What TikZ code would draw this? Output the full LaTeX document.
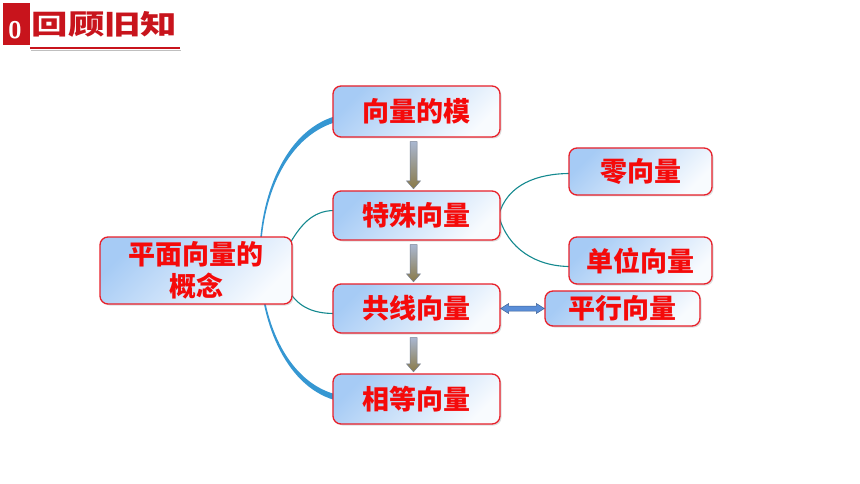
\documentclass[tikz,border=0pt]{standalone}
\usepackage{fontspec}
\newfontfamily\cjk{Noto Sans CJK SC}
\usetikzlibrary{calc,backgrounds,shadows}

\definecolor{boxred}{HTML}{E8202A}
\definecolor{boxblue}{HTML}{A6CBF5}
\definecolor{txtred}{HTML}{F50A0A}
\definecolor{titlered}{HTML}{C8141C}
\definecolor{tealline}{HTML}{14898F}
\definecolor{arcblue}{HTML}{3597D2}
\definecolor{arrtop}{HTML}{A9B7D0}
\definecolor{arrbot}{HTML}{8A7A48}
\definecolor{dblblue}{HTML}{5A8ED8}

\tikzset{
  concept/.style={draw=boxred, line width=1.3pt, rounded corners=8pt,
    top color=boxblue, bottom color=white!92!boxblue, shading angle=45,
    drop shadow={shadow xshift=1.5pt, shadow yshift=-1.5pt, opacity=.25},
    font=\cjk\bfseries\fontsize{27}{32}\selectfont, text=txtred,
    align=center, inner sep=0pt},
  branch/.style={draw=tealline, line width=1.1pt},
  arrowfill/.style={top color=arrtop, bottom color=arrbot, draw=arrtop!70!black, line width=.5pt},
}

\newcommand\fatdown[2]{%
  \shadedraw[arrowfill] let \p1=($(#1.south)+(-3,4)$), \p2=($(#2.north)+(-3,-1.5)$) in
    (\x1-3.5pt,\y1) -- (\x1+3.5pt,\y1) -- (\x1+3.5pt,\y2+8pt) -- (\x1+7pt,\y2+8pt)
    -- (\x1,\y2) -- (\x1-7pt,\y2+8pt) -- (\x1-3.5pt,\y2+8pt) -- cycle;}

\begin{document}
\begin{tikzpicture}[x=1pt,y=-1pt]
% \draw [help lines, step=20] (0,0) grid (860,484);
\useasboundingbox (0,0) rectangle (860,484);

% title
\fill[titlered] (3,3) rectangle (30,45);
\node[text=white, font=\sffamily\bfseries\fontsize{24}{24}\selectfont] (nr) at (15,30) {0};
\node[text=titlered, font=\cjk\bfseries\fontsize{27}{30}\selectfont] (tt) at (104.5,24) {\scalebox{1.35}[1]{回顾旧知}};
\draw[black!25, line width=1.5pt] (31,50.5) -- (181,50.5);
\draw[titlered, line width=2pt] (30,48) -- (180,48);

\node[concept, minimum width=167, minimum height=51] (mo) at (416.5,111.5) {向量的模};
\node[concept, minimum width=167, minimum height=49] (ts) at (416.5,215.5) {特殊向量};
\node[concept, minimum width=167, minimum height=49] (gx) at (416.5,308.5) {共线向量};
\node[concept, minimum width=167, minimum height=50] (xd) at (416.5,399) {相等向量};
\node[concept, minimum width=192, minimum height=67] (gn) at (196,270.5) {平面向量的\\概念};
\node[concept, minimum width=143, minimum height=47] (ling) at (640.5,171.5) {零向量};
\node[concept, minimum width=143, minimum height=47] (dw) at (640.5,260.5) {单位向量};
\node[concept, minimum width=155, minimum height=35] (px) at (622.5,308.5) {平行向量};

\fatdown{mo}{ts}
\fatdown{ts}{gx}
\fatdown{gx}{xd}

\filldraw[fill=dblblue, draw=dblblue!70!black, line width=.5pt]
  let \p1=(gx.east), \p2=(px.west) in
  (\x1,\y1) -- (\x1+8pt,\y1+5pt) -- (\x1+8pt,\y1+2.5pt) -- (\x2-8pt,\y1+2.5pt)
  -- (\x2-8pt,\y1+5pt) -- (\x2,\y1) -- (\x2-8pt,\y1-5pt) -- (\x2-8pt,\y1-2.5pt)
  -- (\x1+8pt,\y1-2.5pt) -- (\x1+8pt,\y1-5pt) -- cycle;

\begin{pgfonlayer}{background}
\fill[white] (0,0) rectangle (860,484);
\coordinate (a1) at ($(mo.west)+(2,5)$);
\coordinate (a2) at ($(mo.west)+(2,11)$);
\coordinate (b1) at ($(xd.west)+(2,1)$);
\coordinate (b2) at ($(xd.west)+(2,-5)$);
\shade[top color=arcblue, middle color=arcblue!15, bottom color=arcblue]
  (a1) .. controls (284,132) and (259.3,198) .. (259.3,258.5)
  .. controls (259.3,319) and (284,385) .. (b1) -- (b2)
  .. controls (286,380) and (260.8,319) .. (260.8,258.5)
  .. controls (260.8,198) and (286,138) .. (a2) -- cycle;
\draw[branch] ($(ts.west)+(2,-5)$) to[out=180,in=60] ($(gn.east)+(-4,-25)$);
\draw[branch] ($(gx.west)+(2,5)$) to[out=180,in=-60] ($(gn.east)+(-4,20)$);
\draw[branch] ($(ts.east)+(-2,0)$) to[out=75,in=180] ($(ling.west)+(2,2)$);
\draw[branch] ($(ts.east)+(-2,0)$) to[out=-75,in=180] ($(dw.west)+(2,6)$);
\end{pgfonlayer}
\end{tikzpicture}
\end{document}
